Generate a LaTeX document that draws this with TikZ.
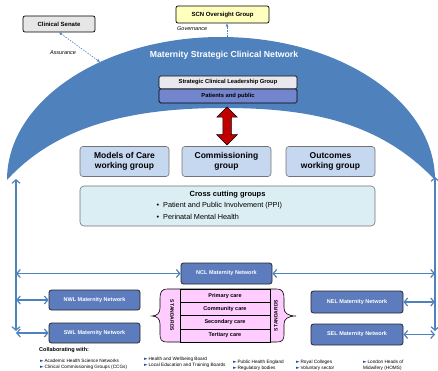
\documentclass[tikz,border=0pt]{standalone}
\usepackage{fontspec}
\setmainfont{Liberation Sans}
\newfontfamily\symfont{DejaVu Sans}
\usetikzlibrary{shapes,shapes.arrows,arrows.meta}
\definecolor{arch_blue}{RGB}{79,129,189}
\definecolor{net_blue}{RGB}{93,124,190}
\definecolor{wg_blue}{RGB}{198,215,240}
\definecolor{cross_cyan}{RGB}{219,238,243}
\definecolor{pp_blue}{RGB}{115,133,204}
\definecolor{slg_grey}{RGB}{232,232,238}
\definecolor{senate_grey}{RGB}{230,230,230}
\definecolor{scn_yellow}{RGB}{255,255,190}
\definecolor{std_pink}{RGB}{255,204,255}
\definecolor{arrow_red}{RGB}{192,0,0}
\definecolor{bul_blue}{RGB}{31,73,155}
\newcommand{\fsz}[1]{\fontsize{#1}{1.25\dimexpr#1pt\relax}\selectfont}
\newcommand{\bul}{{\symfont\textcolor{bul_blue}{►}}\,}
\tikzstyle{topbox}=[rectangle,rounded corners=2pt,draw=black,line width=0.7pt,
  inner sep=0pt,minimum height=16pt,font=\fsz{6}\bfseries]
\tikzstyle{wg}=[rectangle,rounded corners=3pt,fill=wg_blue,draw=black!55,
  line width=0.6pt,inner sep=0pt,minimum width=89pt,minimum height=30pt,
  align=center,font=\fsz{8.5}\bfseries]
\tikzstyle{net}=[rectangle,rounded corners=2.5pt,fill=net_blue,draw=black!85,
  line width=0.8pt,inner sep=0pt,minimum width=91pt,minimum height=21pt,
  text=white,font=\fsz{5.5}\bfseries]
\tikzstyle{std}=[rectangle,fill=std_pink,draw=black,line width=0.5pt,inner sep=0pt,
  minimum width=90pt,minimum height=13.25pt,font=\fsz{5.5}\bfseries]
\tikzstyle{link}=[draw=arch_blue,line width=1.2pt,
  {Straight Barb[length=3.5pt,width=8pt]}-{Straight Barb[length=3.5pt,width=8pt]}]
\tikzstyle{govlink}=[draw=arch_blue,line width=0.6pt,dash pattern=on 1.5pt off 1.2pt]
\tikzstyle{note}=[font=\fsz{5.5}\itshape,inner sep=0pt]
\tikzstyle{collab}=[anchor=west,align=left,inner sep=0pt,font=\fontsize{4.7}{6.3}\selectfont]

\begin{document}
\begin{tikzpicture}[x=1pt,y=-1pt]
    \useasboundingbox (0,0) rectangle (438,371);
    \fill[arch_blue] (7,180) arc[start angle=180,end angle=360,x radius=214,y radius=143]
      .. controls (380,122) and (310,108) .. (224,108)
      .. controls (140,108) and (60,122) .. (7,180) -- cycle;
    \node [text=white,font=\fsz{8.7}\bfseries] (title) at (224,55) {Maternity Strategic Clinical Network};
    \node [style=topbox,fill=senate_grey,minimum width=72pt] (senate) at (59,24) {Clinical Senate};
    \node [style=topbox,fill=scn_yellow,minimum width=93pt,minimum height=17pt] (scn) at (222.5,14.5) {SCN Oversight Group};
    \node [style=note,anchor=west] (gov) at (177,29) {Governance};
    \node [style=note] (assur) at (63,53) {Assurance};
    \coordinate (archtop) at (227,37);
    \coordinate (archleft) at (100,62);
    \draw [style=govlink,-{Latex[length=3pt,width=3pt]}] (archtop) to (archtop |- scn.south);
    \draw [style=govlink,{Latex[length=3pt,width=3pt]}-{Latex[length=3pt,width=3pt]}] (senate.south) to (archleft);
    \node [style=topbox,fill=slg_grey,minimum width=138pt,minimum height=13pt,rounded corners=1.5pt,font=\fsz{5.8}\bfseries] (slg) at (228,82.5) {Strategic Clinical Leadership Group};
    \node [style=topbox,fill=pp_blue,minimum width=138pt,minimum height=14pt,rounded corners=1.5pt,font=\fsz{5.8}\bfseries] (pp) at (228,96) {Patients and public};
    \node [double arrow,rotate=90,fill=arrow_red,draw=black,line width=0.5pt,inner sep=4pt,
      minimum height=38pt,double arrow head extend=6pt] (redarrow) at (227,126) {};
    \node [style=wg] (moc) at (124.5,161.5) {Models of Care\\working group};
    \node [style=wg] (com) at (226.5,161.5) {Commissioning\\group};
    \node [style=wg] (out) at (330.5,161.5) {Outcomes\\working group};
    \node [rectangle,rounded corners=4pt,fill=cross_cyan,draw=black!55,line width=0.6pt,
      minimum width=295pt,minimum height=40pt] (cross) at (227.5,206) {};
    \node [font=\fsz{7.5}\bfseries] (crosstitle) at (227.5,195) {Cross cutting groups};
    \node [anchor=west,font=\fsz{7.3}] (ppi) at (153,205.5) {\textbullet\ \ Patient and Public Involvement (PPI)};
    \node [anchor=west,font=\fsz{7.3}] (pmh) at (153,216.5) {\textbullet\ \ Perinatal Mental Health};
    \node [style=net] (ncl) at (226.5,273.5) {NCL Maternity Network};
    \node [style=net,minimum height=20pt] (nwl) at (94.5,300) {NWL Maternity Network};
    \node [style=net,minimum height=20pt] (swl) at (94.5,333) {SWL Maternity Network};
    \node [style=net,minimum width=92pt,minimum height=22pt] (nel) at (357,302) {NEL Maternity Network};
    \node [style=net,minimum width=92pt] (sel) at (357,334.5) {SEL Maternity Network};
    \coordinate (ltop) at (16,179);
    \coordinate (lbot) at (16,331);
    \coordinate (rtop) at (435,177);
    \coordinate (rbot) at (435,331);
    \draw [style=link] (ltop) to (lbot);
    \draw [style=link] (rtop) to (rbot);
    \draw [style=link] (ncl.west -| ltop) to (ncl.west);
    \draw [style=link] (ncl.east) to (ncl.east -| rtop);
    \draw [style=link] (nwl.west -| ltop) to (nwl.west);
    \draw [style=link] (swl.west -| ltop) to (swl.west);
    \draw [style=link] (nel.east) to (nel.east -| rtop);
    \draw [style=link] (sel.east) to (sel.east -| rtop);
    \draw [fill=std_pink,draw=black,line width=0.6pt]
      (180,289) -- (168,289) .. controls (161,289) and (160,292) .. (160,300) -- (160,308)
      .. controls (160,313) and (157,316) .. (152,316) .. controls (157,316) and (160,319) .. (160,324)
      -- (160,333) .. controls (160,340) and (161,342) .. (168,342) -- (276,342)
      .. controls (283,342) and (284,340) .. (284,333) -- (284,324)
      .. controls (284,319) and (288,316) .. (296,316) .. controls (288,316) and (284,313) .. (284,308)
      -- (284,300) .. controls (284,292) and (283,289) .. (276,289) -- cycle;
    \node [style=std] (prim) at (225,295.625) {Primary care};
    \node [style=std] (comm) at (225,308.875) {Community care};
    \node [style=std] (sec) at (225,322.125) {Secondary care};
    \node [style=std] (ter) at (225,335.375) {Tertiary care};
    \node [rotate=-90,font=\fsz{5}\bfseries,inner sep=0pt] (stdl) at (172,315.5) {STANDARDS};
    \node [rotate=90,font=\fsz{5}\bfseries,inner sep=0pt] (stdr) at (276,315.5) {STANDARDS};
    \node [anchor=west,inner sep=0pt,font=\fsz{5.5}\bfseries] (collab) at (39,350.5) {Collaborating with:};
    \node [style=collab] (c1) at (40,364) {\bul Academic Health  Science Networks\\\bul Clinical Commissioning  Groups (CCGs)};
    \node [style=collab] (c2) at (144,362.5) {\bul Health  and  Wellbeing Board\\\bul Local Education  and  Training Boards};
    \node [style=collab] (c3) at (233,365) {\bul Public Health  England\\\bul Regulatory  bodies};
    \node [style=collab] (c4) at (296,365) {\bul Royal Colleges\\\bul Voluntary  sector};
    \node [style=collab] (c5) at (363,365) {\bul London  Heads  of\\Midwifery  (HOMS)};
  \end{tikzpicture}
\end{document}
